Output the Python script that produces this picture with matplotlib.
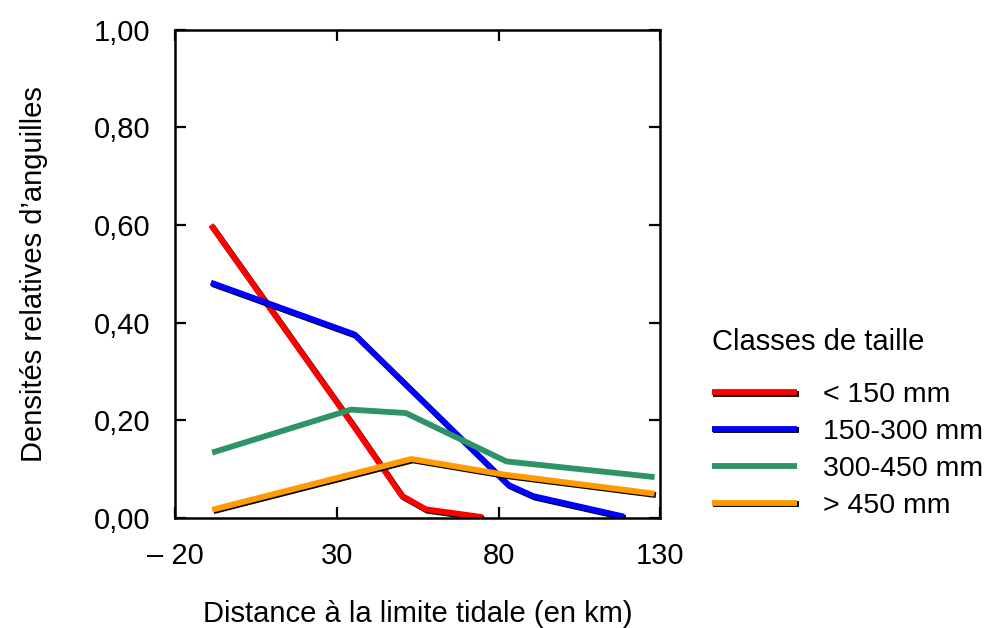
import matplotlib.pyplot as plt
import matplotlib.patheffects as pe

plt.rcParams['font.family'] = ['Liberation Sans', 'DejaVu Sans']

# Données
x_red = [-9, 35, 50, 57.5, 75]
y_red = [0.60, 0.19, 0.046, 0.018, 0.002]

x_blue = [-9, 35.4, 83, 90.7, 118.8]
y_blue = [0.482, 0.376, 0.068, 0.045, 0.003]

x_green = [-8.6, 34.3, 51.3, 82.4, 128.2]
y_green = [0.134, 0.222, 0.215, 0.116, 0.084]

x_orange = [-8.6, 53, 81.8, 128.2]
y_orange = [0.017, 0.121, 0.089, 0.050]

labels = ['< 150 mm', '150-300 mm', '300-450 mm', '> 450 mm']
colors = ['#ff0000', '#0000ff', '#2e9467', '#ff9a00']

x_ticks = [-20, 30, 80, 130]
x_ticklabels = ['\u2013 20', '30', '80', '130']
y_ticks = [0, 0.2, 0.4, 0.6, 0.8, 1.0]
y_ticklabels = ['0,00', '0,20', '0,40', '0,60', '0,80', '1,00']

FS = 21

fig = plt.figure(figsize=(9.96, 6.28), dpi=100)
ax = fig.add_axes([0.176, 0.175, 0.487, 0.778])

shadow = [pe.SimpleLineShadow(offset=(1.0, -1.0), shadow_color='black', alpha=1), pe.Normal()]

series = [(x_red, y_red), (x_blue, y_blue), (x_green, y_green), (x_orange, y_orange)]
for (xs, ys), lab, col in zip(series, labels, colors):
    effects = None if lab == '300-450 mm' else shadow
    ax.plot(xs, ys, color=col, lw=4.2, label=lab, solid_capstyle='butt',
            path_effects=effects)

ax.set_xlim(-20, 130)
ax.set_ylim(0, 1)
ax.set_xticks(x_ticks)
ax.set_xticklabels(x_ticklabels)
ax.set_yticks(y_ticks)
ax.set_yticklabels(y_ticklabels)
ax.tick_params(direction='in', length=8, width=1.6, top=True, right=True,
               labelsize=FS)
ax.tick_params(axis='x', pad=17)
ax.tick_params(axis='y', pad=18)
for sp in ax.spines.values():
    sp.set_linewidth(1.8)

ax.set_xlabel("Distance \u00e0 la limite tidale (en km)", fontsize=FS, labelpad=22)
ax.set_ylabel("Densit\u00e9s relatives d\u2019anguilles", fontsize=FS, labelpad=33)

leg = fig.legend(loc='upper left', bbox_to_anchor=(0.689, 0.519), frameon=False,
                 title='Classes de taille', fontsize=20.5, title_fontsize=FS,
                 handlelength=3.0, handletextpad=0.9, labelspacing=0.38)
leg._legend_box.align = 'left'
leg._legend_box.sep = 19

fig.savefig('out.png', dpi=100)
